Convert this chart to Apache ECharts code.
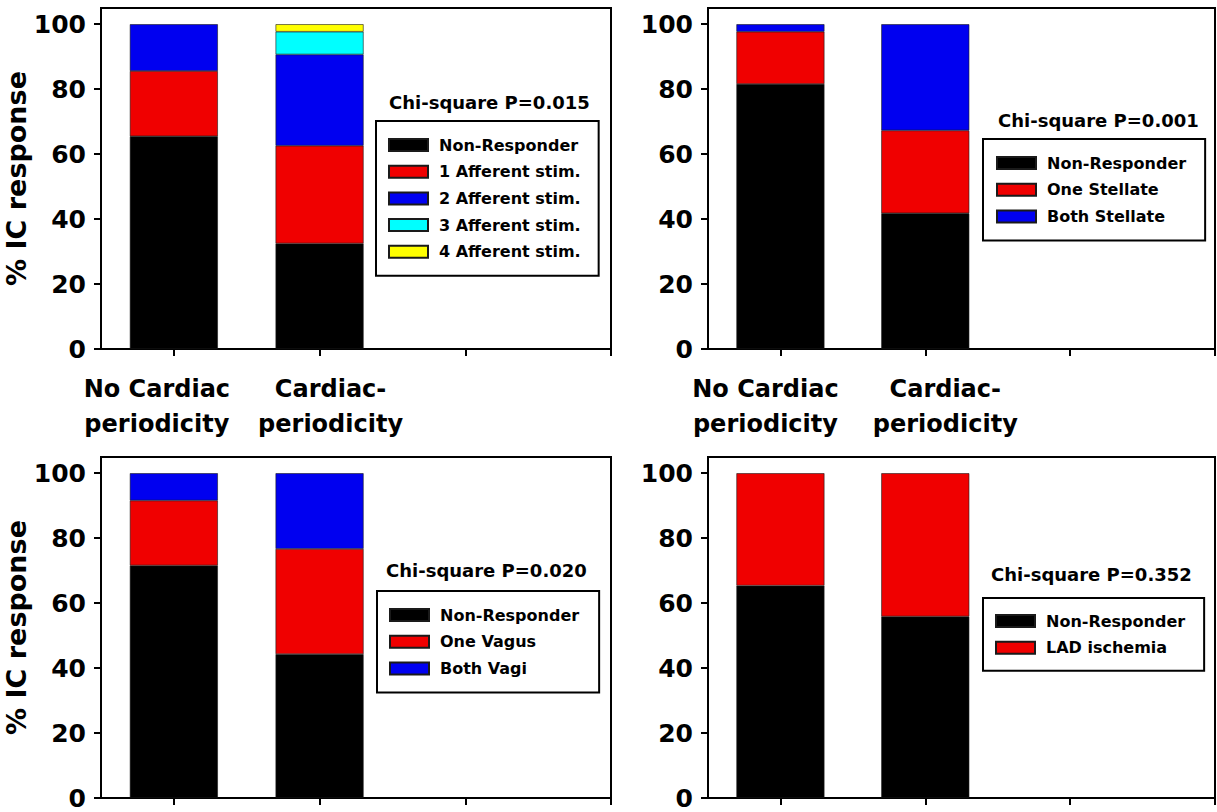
<!DOCTYPE html>
<html><head><meta charset="utf-8">
<script src="https://cdn.jsdelivr.net/npm/echarts@6/dist/echarts.min.js"></script>
<style>html,body{margin:0;padding:0;background:#fff}#c{width:1217px;height:812px}</style>
</head><body><div id="c"></div>
<script>
// ---- data ----
const categories = ['No Cardiac\nperiodicity', 'Cardiac-\nperiodicity'];
const barPositions = [1, 2];                              // x value of each category bar
const xSlots = [0.5, 1, 1.5, 2, 2.5, 3, 3.5, 4];          // x axis runs 0.5 .. 4
const xTickValues = [1, 2, 3, 4];
const yTickValues = [0, 20, 40, 60, 80, 100];

const afferentNames = ['Non-Responder', '1 Afferent stim.', '2 Afferent stim.', '3 Afferent stim.', '4 Afferent stim.'];
const afferentNR = [65.5, 32.5];
const afferent1 = [20.1, 30.1];
const afferent2 = [14.4, 28.1];
const afferent3 = [0, 7.0];
const afferent4 = [0, 2.3];

const stellateNames = ['Non-Responder', 'One Stellate', 'Both Stellate'];
const stellateNR = [81.6, 41.8];
const stellateOne = [16.1, 25.5];
const stellateBoth = [2.3, 32.7];

const vagusNames = ['Non-Responder', 'One Vagus', 'Both Vagi'];
const vagusNR = [71.6, 44.3];
const vagusOne = [20.0, 32.4];
const vagusBoth = [8.4, 23.3];

const ladNames = ['Non-Responder', 'LAD ischemia'];
const ladNR = [65.4, 55.9];
const ladIschemia = [34.6, 44.1];

const pLabels = ['Chi-square P=0.015', 'Chi-square P=0.001', 'Chi-square P=0.020', 'Chi-square P=0.352'];

// ---- styling ----
const FF = 'DejaVu Sans';
const BLACK = '#000000', RED = '#f00000', BLUE = '#0000f0', CYAN = '#00ffff', YELLOW = '#ffff00';

const panels = [
  { names: afferentNames, values: [afferentNR, afferent1, afferent2, afferent3, afferent4], colors: [BLACK, RED, BLUE, CYAN, YELLOW] },
  { names: stellateNames, values: [stellateNR, stellateOne, stellateBoth], colors: [BLACK, RED, BLUE] },
  { names: vagusNames, values: [vagusNR, vagusOne, vagusBoth], colors: [BLACK, RED, BLUE] },
  { names: ladNames, values: [ladNR, ladIschemia], colors: [BLACK, RED] }
];

const grids = [
  { left: 101, top: 8, width: 510, height: 341 },
  { left: 708, top: 8, width: 507, height: 341 },
  { left: 101, top: 457, width: 510, height: 341 },
  { left: 708, top: 457, width: 507, height: 341 }
].map(g => Object.assign(g, {
  show: true, borderColor: '#000', borderWidth: 2, backgroundColor: 'transparent',
  containLabel: false, outerBoundsMode: 'none'
}));

// category labels are shown under the top row only (the bottom row's fall outside the picture)
const showCatLabels = [true, true, false, false];
// horizontal nudge of each category label relative to its tick (px, + = right)
const labelShift = [[-17, 11], [-15, 20], [-17, 11], [-15, 20]];
const slotNames = xSlots.map(String);

// one x axis per category label in every grid (first one carries line + ticks and the bars)
const xAxes = [];
grids.forEach((g, gi) => {
  categories.forEach((cat, ci) => {
    const sh = labelShift[gi][ci];
    const pad = sh < 0 ? [0, -2 * sh, 0, 0] : [0, 0, 0, 2 * sh];
    xAxes.push({
      type: 'category', gridIndex: gi, data: slotNames, boundaryGap: false, position: 'bottom', offset: 0,
      axisLine: { show: ci === 0, lineStyle: { color: '#000', width: 2 } },
      axisTick: { show: ci === 0, length: 7, lineStyle: { color: '#000', width: 2 },
        interval: (idx) => xTickValues.indexOf(xSlots[idx]) >= 0 },
      splitLine: { show: false },
      axisLabel: {
        show: showCatLabels[gi],
        interval: (idx) => xSlots[idx] === barPositions[ci],
        margin: 22, color: '#000', lineHeight: 35,
        formatter: (v, idx) => xSlots[idx] === barPositions[ci]
          ? cat.split('\n').map(s => '{t|' + s + '}').join('\n') : '',
        rich: {
          t: { fontFamily: FF, fontWeight: 'bold', fontSize: 24, color: '#000', lineHeight: 35, padding: pad }
        }
      }
    });
  });
});

const yAxes = grids.map((g, gi) => ({
  type: 'value', gridIndex: gi, min: 0, max: 105,
  name: gi % 2 === 0 ? '% IC response' : '',
  nameLocation: 'middle', nameGap: 70, nameRotate: 90,
  nameTextStyle: { fontFamily: FF, fontWeight: 'bold', fontSize: 27, color: '#000' },
  axisLine: { show: true, lineStyle: { color: '#000', width: 2 } },
  axisTick: { show: true, customValues: yTickValues, length: 7, lineStyle: { color: '#000', width: 2 } },
  splitLine: { show: false },
  axisLabel: { customValues: yTickValues, margin: 15, fontFamily: FF, fontWeight: 'bold', fontSize: 25, color: '#000' }
}));

const series = [];
panels.forEach((p, gi) => {
  p.names.forEach((n, si) => {
    series.push({
      type: 'bar', name: n, xAxisIndex: gi * categories.length, yAxisIndex: gi, stack: 'stack' + gi,
      barWidth: 88, silent: true, animation: false,
      itemStyle: { color: p.colors[si], borderColor: '#1a1a1a', borderWidth: 0.6 },
      data: xSlots.map(x => {
        const j = barPositions.indexOf(x);
        if (j < 0) return '-';
        const v = p.values[si][j];
        return v === 0 ? '-' : v;
      })
    });
  });
});

const legendPos = [
  { left: 376, top: 121, padding: [16, 18, 16, 12] },
  { left: 983, top: 139, padding: [16, 19, 16, 13] },
  { left: 377, top: 591, padding: [16, 20, 16, 12] },
  { left: 983, top: 598, padding: [15, 19, 15, 12] }
];
const legends = panels.map((p, gi) => Object.assign({
  data: p.names, orient: 'vertical', icon: 'rect', itemWidth: 39, itemHeight: 12, itemGap: 10.7,
  borderColor: '#000', borderWidth: 2, selectedMode: false, backgroundColor: '#fff',
  textStyle: { fontFamily: FF, fontWeight: 'bold', fontSize: 16, color: '#000', padding: [0, 0, 0, 6] }
}, legendPos[gi]));

const titlePos = [{ left: 389, top: 93 }, { left: 998, top: 111 }, { left: 386, top: 561 }, { left: 991, top: 565 }];
const titles = pLabels.map((t, i) => Object.assign({
  text: t, padding: 0,
  textStyle: { fontFamily: FF, fontWeight: 'bold', fontSize: 18, color: '#000' }
}, titlePos[i]));

const chart = echarts.init(document.getElementById('c'), null, { renderer: 'svg' });
chart.setOption({
  animation: false,
  backgroundColor: '#fff',
  title: titles,
  legend: legends,
  grid: grids,
  xAxis: xAxes,
  yAxis: yAxes,
  series: series
});
</script>
</body></html>
